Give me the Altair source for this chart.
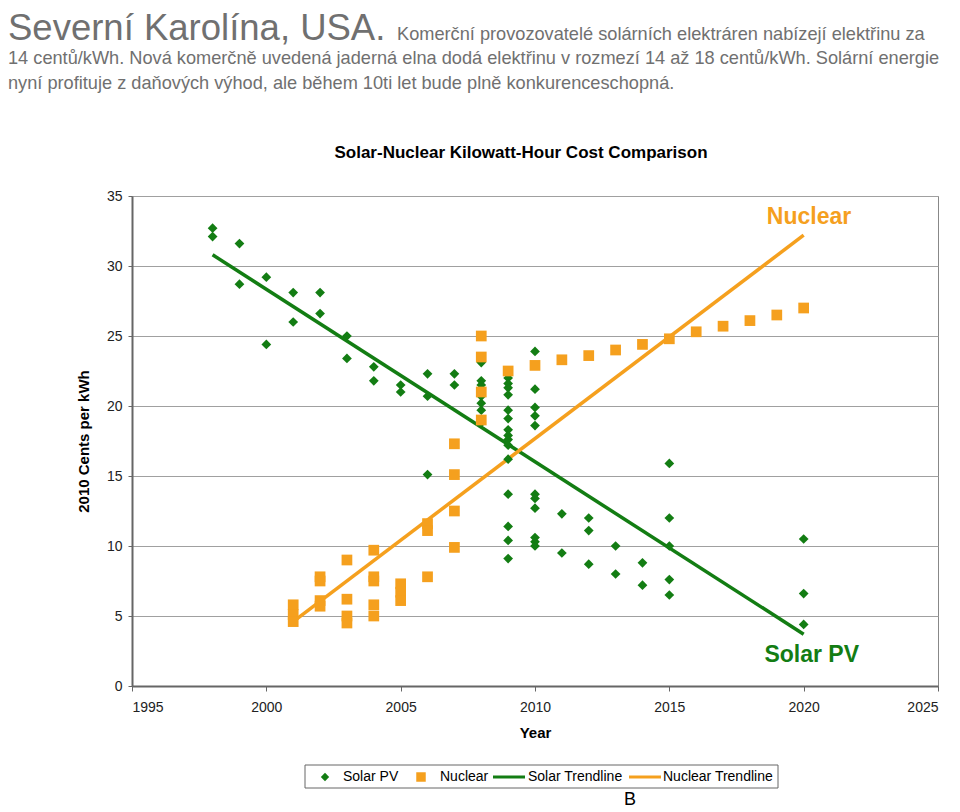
import altair as alt
import pandas as pd

# ---- data ----
solar_year = [1998, 1998, 1999, 1999, 2000, 2000, 2001, 2001, 2002, 2002,
              2003, 2003, 2004, 2004, 2005, 2005, 2006, 2006, 2006, 2007, 2007,
              2008, 2008, 2008, 2008, 2008, 2008, 2008,
              2009, 2009, 2009, 2009, 2009, 2009, 2009, 2009, 2009, 2009, 2009,
              2009, 2009, 2009, 2009,
              2010, 2010, 2010, 2010, 2010, 2010, 2010, 2010, 2010, 2010, 2010,
              2011, 2011, 2012, 2012, 2012, 2013, 2013, 2014, 2014,
              2015, 2015, 2015, 2015, 2015, 2020, 2020, 2020]
solar_cost = [32.7, 32.1, 31.6, 28.7, 29.2, 24.4, 28.1, 26.0, 28.1, 26.6,
              25.0, 23.4, 22.8, 21.8, 21.5, 21.0, 22.3, 20.7, 15.1, 22.3, 21.5,
              23.1, 21.8, 21.5, 20.7, 20.2, 19.7, 18.8,
              22.0, 21.6, 21.3, 20.8, 19.7, 19.1, 18.3, 17.9, 17.6, 17.2, 16.2,
              13.7, 11.4, 10.4, 9.1,
              23.9, 21.2, 19.9, 19.3, 18.6, 13.7, 13.4, 12.7, 10.6, 10.3, 10.0,
              12.3, 9.5, 12.0, 11.1, 8.7, 10.0, 8.0, 8.8, 7.2,
              15.9, 12.0, 10.0, 7.6, 6.5, 10.5, 6.6, 4.4]

nuclear_year = [2001, 2001, 2001, 2002, 2002, 2002, 2002, 2003, 2003, 2003, 2003,
                2004, 2004, 2004, 2004, 2004, 2005, 2005, 2005, 2006, 2006, 2006,
                2007, 2007, 2007, 2007, 2008, 2008, 2008, 2008,
                2009, 2010, 2011, 2012, 2013, 2014, 2015, 2016, 2017, 2018, 2019, 2020]
nuclear_cost = [5.8, 5.1, 4.6, 7.8, 7.5, 6.1, 5.7, 9.0, 6.2, 5.0, 4.5,
                9.7, 7.8, 7.5, 5.8, 5.0, 7.3, 6.7, 6.1, 11.6, 11.1, 7.8,
                17.3, 15.1, 12.5, 9.9, 25.0, 23.5, 21.0, 19.0,
                22.5, 22.9, 23.3, 23.6, 24.0, 24.4, 24.8, 25.3, 25.7, 26.1, 26.5, 27.0]

solar_trend_year = [1998, 2020]
solar_trend_cost = [30.8, 3.7]
nuclear_trend_year = [2001, 2020]
nuclear_trend_cost = [4.6, 32.2]

x_ticks = [1995, 2000, 2005, 2010, 2015, 2020, 2025]
y_ticks = [0, 5, 10, 15, 20, 25, 30, 35]

header_big = "Severní Karolína, USA."
header_lines = [
    "Komerční provozovatelé solárních elektráren nabízejí elektřinu za",
    "14 centů/kWh. Nová komerčně uvedená jaderná elna dodá elektřinu v rozmezí 14 až 18 centů/kWh. Solární energie",
    "nyní profituje z daňových výhod, ale během 10ti let bude plně konkurenceschopná.",
]
chart_title = "Solar-Nuclear Kilowatt-Hour Cost Comparison"
legend_labels = ["Solar PV", "Nuclear", "Solar Trendline", "Nuclear Trendline"]
ann_labels = ["Nuclear", "Solar PV"]
ann_year = [2020.2, 2020.3]
ann_cost = [33.0, 1.7]

GREEN = "#137d13"
ORANGE = "#f5a01e"
FONT = "Liberation Sans"

W, H = 806, 490

solar_df = pd.DataFrame({"year": solar_year, "cost": solar_cost})
nuc_df = pd.DataFrame({"year": nuclear_year, "cost": nuclear_cost})
st_df = pd.DataFrame({"year": solar_trend_year, "cost": solar_trend_cost})
nt_df = pd.DataFrame({"year": nuclear_trend_year, "cost": nuclear_trend_cost})

xs = alt.Scale(domain=[1995, 2025], nice=False, zero=False)
ys = alt.Scale(domain=[0, 35], nice=False)

x_enc = alt.X("year:Q", scale=xs, title="Year",
              axis=alt.Axis(values=x_ticks, format="d", grid=False, tickSize=5,
                            labelPadding=9, titlePadding=11))
y_enc = alt.Y("cost:Q", scale=ys, title="2010 Cents per kWh",
              axis=alt.Axis(values=y_ticks, grid=True, tickSize=4,
                            labelPadding=6, titlePadding=15))

solar_trend = alt.Chart(st_df).mark_line(color=GREEN, strokeWidth=3.5).encode(x=x_enc, y=y_enc)
nuc_trend = alt.Chart(nt_df).mark_line(color=ORANGE, strokeWidth=3.5).encode(x="year:Q", y="cost:Q")

solar_pts = alt.Chart(solar_df).mark_point(shape="diamond", filled=True, color=GREEN,
                                           size=95, opacity=1).encode(x="year:Q", y="cost:Q")
nuc_pts = alt.Chart(nuc_df).mark_point(shape="square", filled=True, color=ORANGE,
                                       size=115, opacity=1).encode(x="year:Q", y="cost:Q")

ann_df = pd.DataFrame({"label": ann_labels, "year": ann_year, "cost": ann_cost,
                       "c": [ORANGE, GREEN]})
ann = alt.Chart(ann_df).mark_text(font=FONT, fontSize=23, fontWeight="bold",
                                  align="center", baseline="alphabetic").encode(
    x="year:Q", y="cost:Q", text="label:N",
    color=alt.Color("c:N", scale=None))

# header text (outside the plot area)
hdr_big = alt.Chart(pd.DataFrame({"t": [header_big]})).mark_text(
    font=FONT, fontSize=36.5, color="#707070", align="left", baseline="alphabetic").encode(
    x=alt.value(-124), y=alt.value(-156), text="t:N")
hdr_df = pd.DataFrame({"t": header_lines, "x": [265, -124, -124], "y": [-156, -132, -107]})
hdr_small = alt.Chart(hdr_df).mark_text(
    font=FONT, fontSize=18.2, color="#707070", align="left", baseline="alphabetic").encode(
    x=alt.X("x:Q", scale=None), y=alt.Y("y:Q", scale=None), text="t:N")

title_mark = alt.Chart(pd.DataFrame({"t": [chart_title]})).mark_text(
    font=FONT, fontSize=17, fontWeight="bold", color="#000", align="center",
    baseline="alphabetic").encode(x=alt.value(389), y=alt.value(-38), text="t:N")

# legend box
box = alt.Chart(pd.DataFrame({"a": [0]})).mark_rect(
    fill="white", stroke="#666", strokeWidth=1).encode(
    x=alt.value(173), x2=alt.value(646), y=alt.value(569), y2=alt.value(592))
leg_sym = alt.Chart(pd.DataFrame({"x": [193, 289], "s": ["diamond", "square"],
                                  "c": [GREEN, ORANGE], "z": [70, 90]})).mark_point(
    filled=True, opacity=1).encode(
    x=alt.X("x:Q", scale=None), y=alt.value(581),
    shape=alt.Shape("s:N", scale=None), color=alt.Color("c:N", scale=None),
    size=alt.Size("z:Q", scale=None))
leg_lines = alt.Chart(pd.DataFrame({"x": [361, 497], "x2": [393, 529],
                                    "c": [GREEN, ORANGE]})).mark_rule(strokeWidth=3).encode(
    x=alt.X("x:Q", scale=None), x2="x2:Q", y=alt.value(581),
    color=alt.Color("c:N", scale=None))
leg_text = alt.Chart(pd.DataFrame({"t": legend_labels, "x": [211, 308, 396, 531]})).mark_text(
    font=FONT, fontSize=14, color="#000", align="left", baseline="middle").encode(
    x=alt.X("x:Q", scale=None), y=alt.value(581), text="t:N")

b_mark = alt.Chart(pd.DataFrame({"t": ["B"]})).mark_text(
    font=FONT, fontSize=18, color="#000", align="center", baseline="alphabetic").encode(
    x=alt.value(498), y=alt.value(609), text="t:N")

chart = alt.layer(
    solar_trend, nuc_trend, solar_pts, nuc_pts, ann,
    hdr_big, hdr_small, title_mark, box, leg_sym, leg_lines, leg_text, b_mark
).properties(
    width=W, height=H,
    autosize=alt.AutoSizeParams(type="none"),
    padding={"left": 124, "top": 188, "right": 14, "bottom": 124},
    background="white",
).configure_view(
    stroke="#888", strokeWidth=1
).configure_axis(
    labelFont=FONT, labelFontSize=14, labelColor="#222",
    titleFont=FONT, titleFontSize=15, titleFontWeight="bold", titleColor="#000",
    domainColor="#666", domainWidth=2, tickColor="#666", tickWidth=1,
    gridColor="#a0a0a0", gridWidth=1,
)

chart.save("out.html", embed_options={"renderer": "svg", "actions": False})
